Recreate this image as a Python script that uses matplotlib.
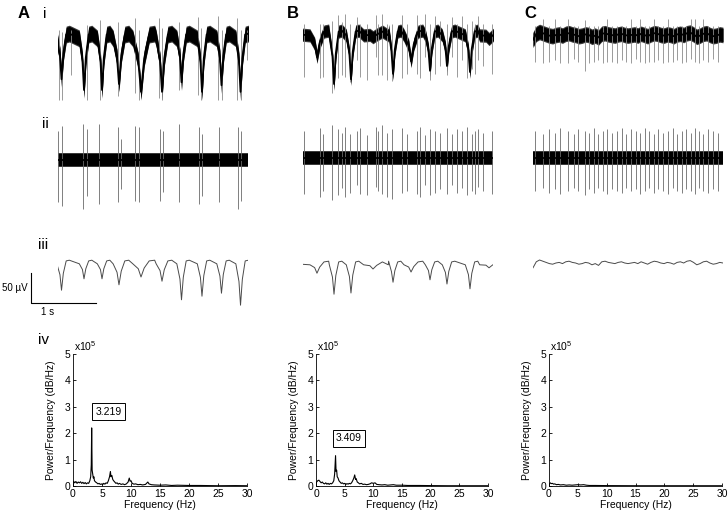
import numpy as np
import matplotlib
matplotlib.use('Agg')
import matplotlib.pyplot as plt

plt.rcParams['font.family'] = ['Liberation Sans', 'DejaVu Sans']
plt.rcParams['mathtext.default'] = 'regular'

# ---- data ----
# times in s, amplitudes in uV (relative to the trace baseline)

# column A
a_dip_t = [0.054, 0.40, 0.677, 0.938, 1.277, 1.60, 1.90, 2.215, 2.515, 2.808]
a_dip_w = [0.04, 0.04, 0.04, 0.05, 0.07, 0.05, 0.04, 0.04, 0.04, 0.04]
a_raw_depth = [-72, -90, -90, -80, -93, -93, -77, -93, -82, -93]
a_lfp_depth = [-47, -28, -28, -38, -25, -32, -63, -57, -52, -72]
a_i_spk_t = [0.015, 0.066, 0.2, 0.44, 0.646, 0.918, 1.185, 1.246, 1.554, 1.60,
             1.862, 2.154, 2.195, 2.462, 2.518, 2.75, 2.81, 2.908]
a_i_spk_top = [10, 7, 10, 18, 27, 23, 30, 10, 30, 13, 23, 32, 13, 33, 10, 30, 10, 10]
a_i_spk_bot = [-107, -107, -65, -107, -107, -100, -95, -107, -103, -107,
               -90, -98, -107, -107, -107, -107, -107, -40]
a_ii_spk_t = [0.005, 0.057, 0.389, 0.451, 0.635, 0.928, 0.965, 1.185, 1.251, 1.569,
              1.611, 1.866, 2.174, 2.211, 2.482, 2.774, 2.811]
a_ii_spk_top = [48, 57, 60, 52, 60, 55, 35, 57, 55, 52, 48, 60, 55, 43, 55, 55, 48]
a_ii_spk_bot = [-70, -77, -82, -60, -73, -70, -48, -68, -70, -68, -53, -70, -73, -60, -70, -82, -68]
a_freq = [0.0, 0.1, 0.3, 0.5, 0.7, 0.9, 1.1, 1.3, 1.5, 1.7, 1.9, 2.1, 2.3, 2.5, 2.7, 2.9,
          3.05, 3.15, 3.22, 3.3, 3.4, 3.5, 3.6, 3.7, 3.9, 4.1, 4.3, 4.5, 4.7, 4.9, 5.1, 5.3,
          5.5, 5.7, 5.9, 6.1, 6.3, 6.45, 6.55, 6.7, 6.85, 7.0, 7.2, 7.4, 7.6, 7.8, 8.0, 8.3,
          8.6, 8.9, 9.2, 9.5, 9.7, 9.85, 10.0, 10.2, 10.5, 10.8, 11.2, 11.6, 12.0, 12.5,
          12.9, 13.1, 13.5, 14, 15, 16, 17, 18, 20, 22, 25, 28, 30]
a_pow = [0.05, 0.18, 0.12, 0.17, 0.10, 0.15, 0.12, 0.16, 0.10, 0.14, 0.09, 0.13, 0.08, 0.12,
         0.10, 0.20, 0.35, 0.80, 2.20, 0.60, 0.45, 0.30, 0.35, 0.20, 0.15, 0.12, 0.08, 0.10,
         0.06, 0.08, 0.05, 0.10, 0.07, 0.12, 0.10, 0.20, 0.35, 0.55, 0.35, 0.40, 0.25, 0.20,
         0.15, 0.10, 0.12, 0.07, 0.10, 0.06, 0.08, 0.05, 0.08, 0.15, 0.30, 0.18, 0.20, 0.10,
         0.07, 0.08, 0.05, 0.06, 0.04, 0.06, 0.15, 0.08, 0.05, 0.04, 0.03, 0.04, 0.02, 0.03,
         0.02, 0.02, 0.01, 0.015, 0.01]

# column B
b_dip_t = [0.215, 0.477, 0.738, 1.077, 1.385, 1.662, 1.954, 2.215, 2.569, 2.862]
b_dip_w = [0.06, 0.04, 0.04, 0.08, 0.04, 0.06, 0.04, 0.04, 0.04, 0.08]
b_raw_depth = [-40, -85, -77, -7, -68, -47, -63, -55, -65, -10]
b_lfp_depth = [-17, -52, -50, -10, -32, -15, -28, -35, -43, -8]
b_spk_t = [0.015, 0.262, 0.313, 0.441, 0.543, 0.595, 0.646, 0.723, 0.835, 0.877,
           0.980, 1.123, 1.158, 1.21, 1.287, 1.364, 1.518, 1.595, 1.749, 1.8,
           1.877, 1.954, 2.031, 2.108, 2.21, 2.287, 2.364, 2.441, 2.518, 2.595,
           2.646, 2.697, 2.774, 2.903]
b_i_spk_top = [15, 15, 15, 20, 30, 18, 32, 15, 27, 15, 15, 30, 15, 32, 15, 15, 30, 15,
               30, 15, 32, 15, 28, 20, 15, 27, 15, 28, 15, 20, 15, 28, 15, 15]
b_i_spk_bot = [-73, -75, -73, -100, -75, -70, -73, -82, -45, -73, -78, -40, -70, -70,
               -78, -80, -75, -68, -68, -75, -40, -78, -68, -55, -70, -40, -73, -45,
               -75, -60, -68, -45, -55, -68]
b_ii_spk_top = [45, 50, 40, 55, 48, 42, 52, 40, 45, 50, 38, 52, 45, 55, 42, 48, 50, 40,
                45, 52, 38, 48, 45, 42, 50, 40, 48, 45, 52, 40, 45, 48, 42, 45]
b_ii_spk_bot = [-60, -65, -55, -70, -62, -50, -65, -58, -45, -60, -62, -48, -55, -60,
                -65, -68, -58, -55, -60, -65, -45, -62, -58, -52, -60, -45, -58, -50,
                -62, -55, -60, -48, -55, -60]
b_freq = [0.0, 0.1, 0.3, 0.5, 0.7, 0.9, 1.1, 1.3, 1.5, 1.7, 1.9, 2.1, 2.3, 2.5, 2.7, 2.9,
          3.1, 3.25, 3.41, 3.5, 3.6, 3.7, 3.85, 4.0, 4.2, 4.4, 4.6, 4.8, 5.0, 5.2, 5.4,
          5.6, 5.8, 6.0, 6.2, 6.4, 6.6, 6.75, 6.9, 7.0, 7.2, 7.4, 7.6, 7.9, 8.2, 8.5, 8.8,
          9.1, 9.4, 9.7, 10.0, 10.3, 10.6, 11, 11.5, 12, 12.5, 13, 13.5, 14, 15, 16, 18,
          20, 23, 26, 30]
b_pow = [0.05, 0.15, 0.20, 0.22, 0.17, 0.12, 0.15, 0.10, 0.08, 0.12, 0.07, 0.10, 0.06,
         0.10, 0.08, 0.12, 0.20, 0.45, 1.15, 0.55, 0.60, 0.35, 0.30, 0.20, 0.15, 0.10,
         0.12, 0.08, 0.10, 0.06, 0.09, 0.07, 0.10, 0.08, 0.12, 0.20, 0.30, 0.42, 0.25,
         0.28, 0.15, 0.12, 0.08, 0.10, 0.06, 0.07, 0.05, 0.06, 0.08, 0.12, 0.10, 0.12,
         0.06, 0.05, 0.04, 0.05, 0.03, 0.04, 0.05, 0.03, 0.03, 0.02, 0.02, 0.015, 0.01,
         0.01, 0.01]

# column C
c_spk_t = [0.031, 0.159, 0.251, 0.338, 0.415, 0.543, 0.631, 0.697, 0.8, 0.866,
           0.938, 1.005, 1.082, 1.133, 1.21, 1.287, 1.374, 1.431, 1.503, 1.585,
           1.646, 1.723, 1.789, 1.862, 1.928, 1.995, 2.082, 2.149, 2.21, 2.287,
           2.354, 2.426, 2.492, 2.558, 2.62, 2.697, 2.774, 2.841]
c_i_spk_top = [15, 27, 15, 27, 15, 27, 15, 15, 25, 15, 15, 15, 15, 27, 15, 15, 15, 15,
               27, 15, 27, 15, 15, 27, 15, 15, 27, 15, 15, 15, 15, 27, 27, 15, 27, 15, 15, 15]
c_i_spk_bot = [-45, -47, -45, -42, -47, -47, -40, -45, -60, -47, -45, -42, -47, -45,
               -45, -47, -42, -45, -47, -40, -45, -47, -45, -45, -42, -47, -45, -45,
               -42, -47, -45, -40, -45, -47, -42, -45, -40, -45]
c_ii_spk_top = [45, 40, 48, 42, 50, 45, 40, 48, 45, 42, 50, 40, 45, 48, 42, 45, 50, 40,
                48, 45, 42, 50, 45, 40, 48, 42, 45, 50, 40, 45, 48, 42, 50, 45, 40, 48, 45, 42]
c_ii_spk_bot = [-55, -50, -58, -52, -60, -55, -50, -55, -62, -52, -58, -50, -55, -60,
                -52, -55, -58, -50, -55, -52, -60, -55, -50, -58, -52, -55, -60, -50,
                -55, -58, -52, -55, -60, -50, -55, -58, -52, -55]
c_lfp = [-8, 2, 5, 3, 1, -1, -2, 0, 1, -1, 2, 3, 1, 0, -2, -1, 1, 0, -3, -1, -4, 2, 3, 1,
         0, -1, 1, 2, 0, -1, 0, 1, -1, 2, 0, -2, 1, 3, 2, 0, -1, 1, 0, -2, 1, 2, 0, 3, 4,
         1, -3, -1, 2, 3, 0, -2, -1, 1, 0]
c_freq = [0, 0.2, 0.4, 0.6, 0.8, 1.0, 1.3, 1.6, 2, 2.5, 3, 3.5, 4, 4.5, 5, 5.5, 6, 6.5,
          7, 8, 10, 15, 20, 30]
c_pow = [0.05, 0.12, 0.09, 0.10, 0.07, 0.08, 0.05, 0.06, 0.04, 0.05, 0.03, 0.04, 0.03,
         0.04, 0.05, 0.04, 0.05, 0.03, 0.02, 0.02, 0.015, 0.01, 0.01, 0.01]

peak_labels = ['3.219', '3.409', None]
peak_label_pos = [(6.1, 2.82), (5.7, 1.8), None]

# ---- layout ----
W, H = 728, 514
fig = plt.figure(figsize=(W / 100, H / 100), dpi=100)
UPX = 50 / 30      # uV per pixel (50 uV bar is 30 px)
SPX = 65           # px per second (1 s bar)
T = 190 / SPX      # trace length in s


def add_ax(x0, y0, x1, y1):
    return fig.add_axes([x0 / W, 1 - y1 / H, (x1 - x0) / W, (y1 - y0) / H])


def trace_ax(x0, y_top, y_bot, y_zero):
    ax = add_ax(x0, y_top, x0 + 190, y_bot)
    ax.set_xlim(0, T)
    ax.set_ylim(-(y_bot - y_zero) * UPX, (y_zero - y_top) * UPX)
    ax.axis('off')
    return ax


def lfp_line(dip_t, depth, width, peak, pre):
    # vertices of each dip: slow entry, sharp trough, quick recovery, short plateau
    pts = [(-0.3, 0.0), (T + 0.3, 0.0)]
    for t, d, w in zip(dip_t, depth, width):
        pts += [(t - 1.8 * w, pre), (t - 0.6 * w, 0.45 * d), (t, d),
                (t + 0.7 * w, 0.4 * d), (t + 1.8 * w, 0.6 * peak), (t + 3.0 * w, peak)]
    pts.sort()
    return np.array(pts).T


def band(ax, x, y, h):
    ax.fill_between(x, y - h - 2, y + h + 2, color='#3a3a3a', lw=0)
    ax.fill_between(x, y - h, y + h, color='k', lw=0)
    ax.plot(x, y, color='k', lw=1.3)


def spikes(ax, t, top, bot, color):
    ax.vlines(t, bot, top, color=color, lw=0.6)


cols = [
    dict(x0=58, i0=36, ii0=160, iii0=262, h_i=12, dips=(a_dip_t, a_dip_w, a_raw_depth, a_lfp_depth),
         spk_i=(a_i_spk_t, a_i_spk_top, a_i_spk_bot), spk_ii=(a_ii_spk_t, a_ii_spk_top, a_ii_spk_bot),
         spec=(a_freq, a_pow), sx=(73, 247)),
    dict(x0=303, i0=33, ii0=158, iii0=263, h_i=9, dips=(b_dip_t, b_dip_w, b_raw_depth, b_lfp_depth),
         spk_i=(b_spk_t, b_i_spk_top, b_i_spk_bot), spk_ii=(b_spk_t, b_ii_spk_top, b_ii_spk_bot),
         spec=(b_freq, b_pow), sx=(316, 488)),
    dict(x0=533, i0=35, ii0=158, iii0=263, h_i=11, dips=None,
         spk_i=(c_spk_t, c_i_spk_top, c_i_spk_bot), spk_ii=(c_spk_t, c_ii_spk_top, c_ii_spk_bot),
         spec=(c_freq, c_pow), sx=(549, 722)),
]

for k, c in enumerate(cols):
    # row i: raw trace
    ax = trace_ax(c['x0'], 10, 108, c['i0'])
    if c['dips']:
        dt, dw, raw, lfp = c['dips']
        x, y = lfp_line(dt, raw, dw, 4, -4)
        xl, yl = lfp_line(dt, lfp, dw, 3, -3)
    else:
        x = np.linspace(0, T, len(c_lfp))
        y = np.array(c_lfp, dtype=float)
        xl, yl = x, y
    spikes(ax, *c['spk_i'], '#8a8a8a')
    band(ax, x, y, c['h_i'])

    # row ii: filtered spikes
    ax = trace_ax(c['x0'], 112, 218, c['ii0'])
    spikes(ax, *c['spk_ii'], '#6a6a6a')
    band(ax, np.array([0, T]), np.array([0.0, 0.0]), 10)

    # row iii: LFP
    ax = trace_ax(c['x0'], 240, 312, c['iii0'])
    ax.plot(xl, yl, color='#4a4a4a', lw=0.7)
    if k == 0:
        bx = (31 - c['x0']) / SPX
        by = -(303 - c['iii0']) * UPX
        ax.plot([bx, bx, bx + 1], [by + 50, by, by], color='k', lw=0.8, clip_on=False)

    # row iv: spectrum
    sx0, sx1 = c['sx']
    ax = add_ax(sx0, 354, sx1, 486)
    ax.plot(*c['spec'], color='k', lw=0.8)
    ax.set_xlim(0, 30)
    ax.set_ylim(0, 5)
    ax.set_xticks(range(0, 31, 5))
    ax.set_yticks(range(0, 6))
    for s in ['top', 'right']:
        ax.spines[s].set_visible(False)
    for s in ['left', 'bottom']:
        ax.spines[s].set_linewidth(0.6)
    ax.tick_params(direction='in', length=2.5, width=0.6, labelsize=7.5, pad=2)
    ax.set_xlabel('Frequency (Hz)', fontsize=7.5, labelpad=1)
    ax.set_ylabel('Power/Frequency (dB/Hz)', fontsize=7.5, labelpad=6)
    ax.text(0.005, 1.01, r'x10$^{5}$', transform=ax.transAxes, fontsize=7.5,
            ha='left', va='bottom')
    if peak_labels[k]:
        ax.text(*peak_label_pos[k], peak_labels[k], fontsize=7.5, ha='center', va='center',
                bbox=dict(boxstyle='square,pad=0.3', fc='white', ec='k', lw=0.7))

# panel letters and row numerals
for s, x in [('A', 18), ('B', 287), ('C', 524)]:
    fig.text(x / W, 1 - 18 / H, s, fontsize=12, fontweight='bold', ha='left', va='baseline')
for s, x, y in [('i', 43, 18), ('ii', 42, 128), ('iii', 38, 249), ('iv', 38, 344)]:
    fig.text(x / W, 1 - y / H, s, fontsize=11, ha='left', va='baseline')
fig.text(2 / W, 1 - 288 / H, '50 µV', fontsize=7, ha='left', va='center')
fig.text(48 / W, 1 - 312 / H, '1 s', fontsize=7, ha='center', va='center')

fig.savefig('out.png', dpi=100, facecolor='white')
